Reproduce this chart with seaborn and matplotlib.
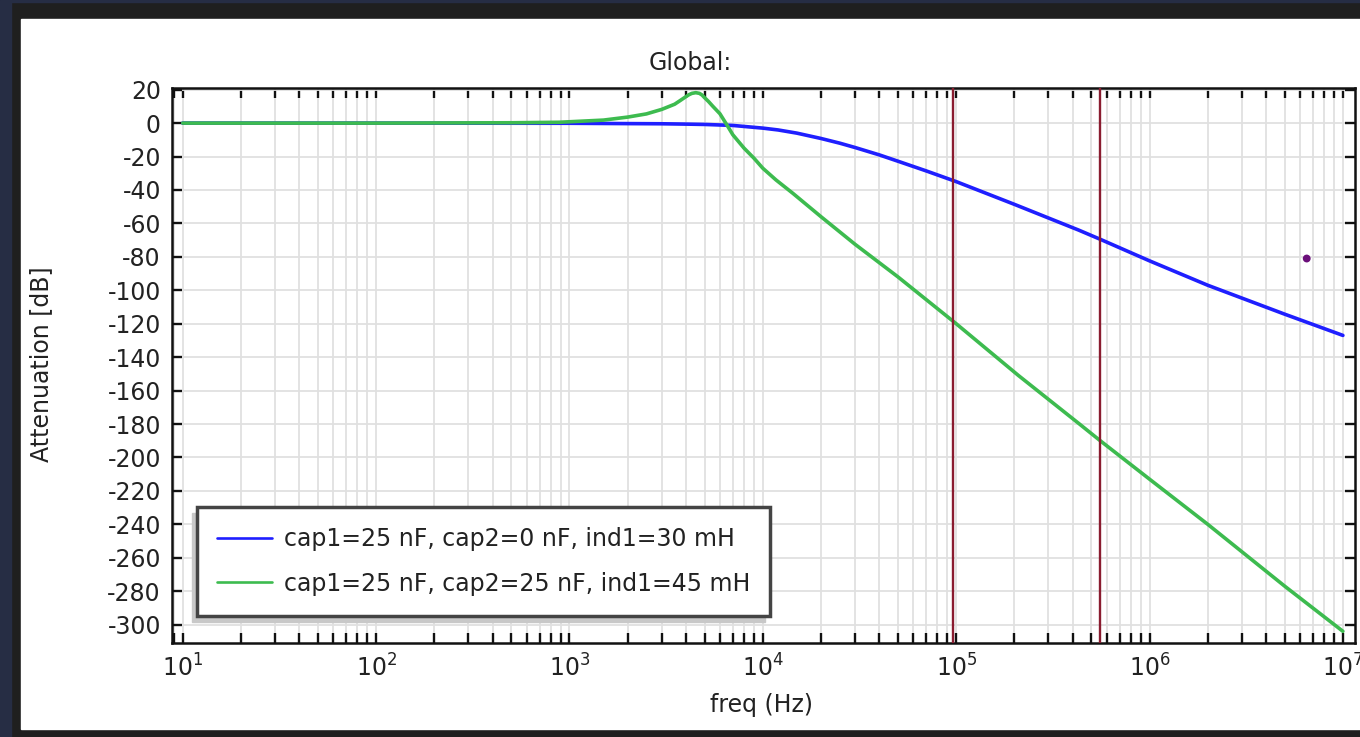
import numpy as np
import pandas as pd
import seaborn as sns
from matplotlib import pyplot as plt
from matplotlib.patches import Rectangle
from matplotlib.transforms import IdentityTransform
from matplotlib.ticker import FixedLocator, NullFormatter

# values
freq_blue = [10, 100, 1000, 2000, 3000, 4000, 5000, 7000, 10000, 12000, 15000, 20000,
             25000, 30000, 40000, 50000, 70000, 100000, 200000, 430000, 556000,
             1000000, 2000000, 5000000, 10000000]
att_blue = [0, 0, -0.1, -0.3, -0.4, -0.6, -0.8, -1.4, -3, -4.1, -6, -9.2,
            -12, -14.6, -19, -22.8, -28.6, -35, -48.6, -64, -69.5,
            -82.4, -97, -114.3, -127]

freq_green = [10, 100, 500, 885, 1500, 2000, 2500, 3000, 3500, 3750, 4000, 4150, 4300,
              4500, 4700, 4850, 5000, 5250, 5500, 6000, 6560, 7000, 8000, 9000, 10000,
              11700, 14300, 20000, 30000, 50000, 100000, 210000, 434000, 556000,
              1000000, 2000000, 5000000, 10000000]
att_green = [0, 0, 0.2, 0.5, 1.8, 3.6, 5.5, 8.2, 11.3, 13.6, 15.8, 17, 17.8,
             18.2, 17.8, 16.8, 15.2, 12.8, 10.2, 5.6, -1.6, -7, -15, -21, -27,
             -34, -42, -56, -72.5, -92, -120, -151, -180, -190,
             -213, -240, -277, -304]

marker_freq = [9.6e4, 5.56e5]
dot_freq = [6.5e6]
dot_att = [-81]

legend_labels = ['cap1=25 nF, cap2=0 nF, ind1=30 mH',
                 'cap1=25 nF, cap2=25 nF, ind1=45 mH']
y_ticks = list(range(-300, 21, 20))
x_ticks = [10, 100, 1000, 10000, 100000, 1000000, 10000000]
x_tick_labels = ['$10^{1}$', '$10^{2}$', '$10^{3}$', '$10^{4}$', '$10^{5}$', '$10^{6}$', '$10^{7}$']

sns.set_style('white')
plt.rcParams['font.family'] = ['DejaVu Sans']
plt.rcParams['axes.unicode_minus'] = False
plt.rcParams['mathtext.fontset'] = 'dejavusans'

FS = 17
W, H = 1360, 737
fig = plt.figure(figsize=(W / 100, H / 100), dpi=100, facecolor='#1f1f1f')
# window frame around the white panel
fig.patches.append(Rectangle((0, 0), 11 / W, 1, transform=fig.transFigure,
                             color='#262d44', zorder=-2))
fig.patches.append(Rectangle((0, 1 - 2 / H), 1, 2 / H, transform=fig.transFigure,
                             color='#262d44', zorder=-2))
fig.patches.append(Rectangle((21 / W, 8 / H), 1 - 21 / W, (H - 8 - 19) / H,
                             transform=fig.transFigure, color='white', zorder=-2))

ax = fig.add_axes([172 / W, 94 / H, 1183 / W, 555 / H])
ax.set_facecolor('white')

df_blue = pd.DataFrame({'freq': freq_blue, 'att': att_blue})
df_green = pd.DataFrame({'freq': freq_green, 'att': att_green})

sns.lineplot(data=df_blue, x='freq', y='att', color='#1f1fff', lw=2.6, ax=ax,
             label=legend_labels[0])
sns.lineplot(data=df_green, x='freq', y='att', color='#3dbb4f', lw=2.6, ax=ax,
             label=legend_labels[1])
for f in marker_freq:
    ax.axvline(f, color='#8a1c30', lw=1.7, zorder=3)
sns.scatterplot(x=dot_freq, y=dot_att, color='#6b0f7a', s=32, edgecolor='none',
                ax=ax, legend=False, zorder=4)

ax.set_xscale('log')
ax.set_xlim(8.8, 1.155e7)
ax.set_ylim(-311, 21)
ax.set_yticks(y_ticks)
ax.set_xticks(x_ticks)
ax.set_xticklabels(x_tick_labels)
minor = [m * 10 ** k for k in range(0, 8) for m in range(2, 10)]
ax.xaxis.set_minor_locator(FixedLocator([v for v in minor if 8.8 < v < 1.155e7]))
ax.xaxis.set_minor_formatter(NullFormatter())

ax.grid(True, which='both', axis='x', color='#e0e0e0', lw=1.3)
ax.grid(True, which='major', axis='y', color='#e0e0e0', lw=1.3)
ax.set_axisbelow(True)

ax.tick_params(which='both', direction='in', top=True, right=True, bottom=True, left=True,
               length=7.5, width=1.7, color='#111111', labelsize=FS,
               labelcolor='#222222', pad=8)
for s in ax.spines.values():
    s.set_visible(True)
    s.set_linewidth(1.8)
    s.set_color('#111111')

ax.set_xlabel('')
ax.set_ylabel('')
fig.text(690 / W, 1 - 63 / H, 'Global:', ha='center', va='center', fontsize=FS, color='#222222')
fig.text(762 / W, 1 - 705 / H, 'freq (Hz)', ha='center', va='center', fontsize=FS, color='#222222')
fig.text(41 / W, 1 - 364 / H, 'Attenuation [dB]', ha='center', va='center', rotation=90,
         fontsize=FS, color='#222222')

leg = ax.legend(loc='lower left', bbox_to_anchor=(0.021, 0.049), borderaxespad=0,
                fontsize=FS, frameon=True, fancybox=False, framealpha=1,
                edgecolor='#444444', handlelength=2.33, handletextpad=0.5,
                borderpad=0.85, labelspacing=0.86)
leg.get_frame().set_linewidth(2.5)
for t in leg.get_texts():
    t.set_color('#222222')
for ln in leg.get_lines():
    ln.set_linewidth(1.9)

# shadow offset down-left like the original
fig.canvas.draw()
bb = leg.get_window_extent()
ax.add_patch(Rectangle((bb.x0 - 5, bb.y0 - 6), bb.width, bb.height,
                       transform=IdentityTransform(), color='#c8c8c8',
                       zorder=4.5, clip_on=False))

fig.savefig('out.png', dpi=100, facecolor=fig.get_facecolor())
